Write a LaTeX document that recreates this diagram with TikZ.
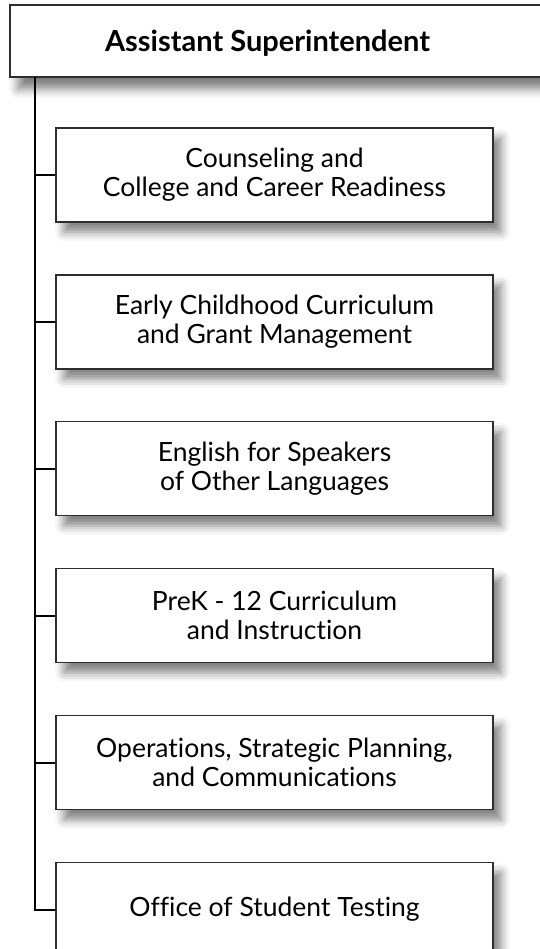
\documentclass[tikz,border=0pt]{standalone}
\usepackage{fontspec}
\setmainfont{Lato}[Ligatures={NoCommon,NoRare}]
\usepackage{tikz}
\usepackage{xcolor}
\usetikzlibrary{positioning,shadows.blur}
\definecolor{boxline}{RGB}{45,45,45}
\definecolor{trunk}{RGB}{0,0,0}
\tikzstyle{link} = [
    line width=2pt,
    draw=trunk
]
\tikzstyle{unit} = [
    rectangle,
    minimum width=437pt,
    minimum height=94pt,
    align=center,
    draw=boxline,
    line width=1.3pt,
    fill=white,
    font=\fontsize{26.5}{29}\selectfont,
    blur shadow={shadow xshift=8pt, shadow yshift=-10pt,
                 shadow blur radius=9pt, shadow opacity=50}
]

\begin{document}
\begin{tikzpicture}[
                x=1pt, y=-1pt,
                node distance=51.6pt,
                head/.style={
                    rectangle,
                    minimum width=560pt,
                    minimum height=72pt,
                    draw=boxline,
                    line width=1.3pt,
                    fill=white,
                    blur shadow={shadow xshift=8pt, shadow yshift=-12pt,
                                 shadow blur radius=9pt, shadow opacity=50}
                },
                title/.style={
                    font=\fontsize{29}{31}\selectfont\bfseries
                }
            ]
                \useasboundingbox (0,0) rectangle (539,949);
                \node[head] (headbox) at (290,41) {};
                \node[title] (asst) at (267.5,43) {Assistant Superintendent};
                \node[unit] (c1) at (274.5,175) {Counseling and\\College and Career Readiness};
                \node[unit] (c2) [below=of c1] {Early Childhood Curriculum\\and Grant Management};
                \node[unit] (c3) [below=of c2] {English for Speakers\\of Other Languages};
                \node[unit] (c4) [below=of c3] {PreK - 12 Curriculum\\and Instruction};
                \node[unit] (c5) [below=of c4] {Operations, Strategic Planning,\\and Communications};
                \node[unit] (c6) [below=of c5] {Office of Student Testing};
                \coordinate (top) at (35,77);
                \draw[link] (top) |- (c6.west);
                \foreach \c in {c1,c2,c3,c4,c5}
                    \draw[link] (top |- \c.west) -- (\c.west);
            \end{tikzpicture}
\end{document}
